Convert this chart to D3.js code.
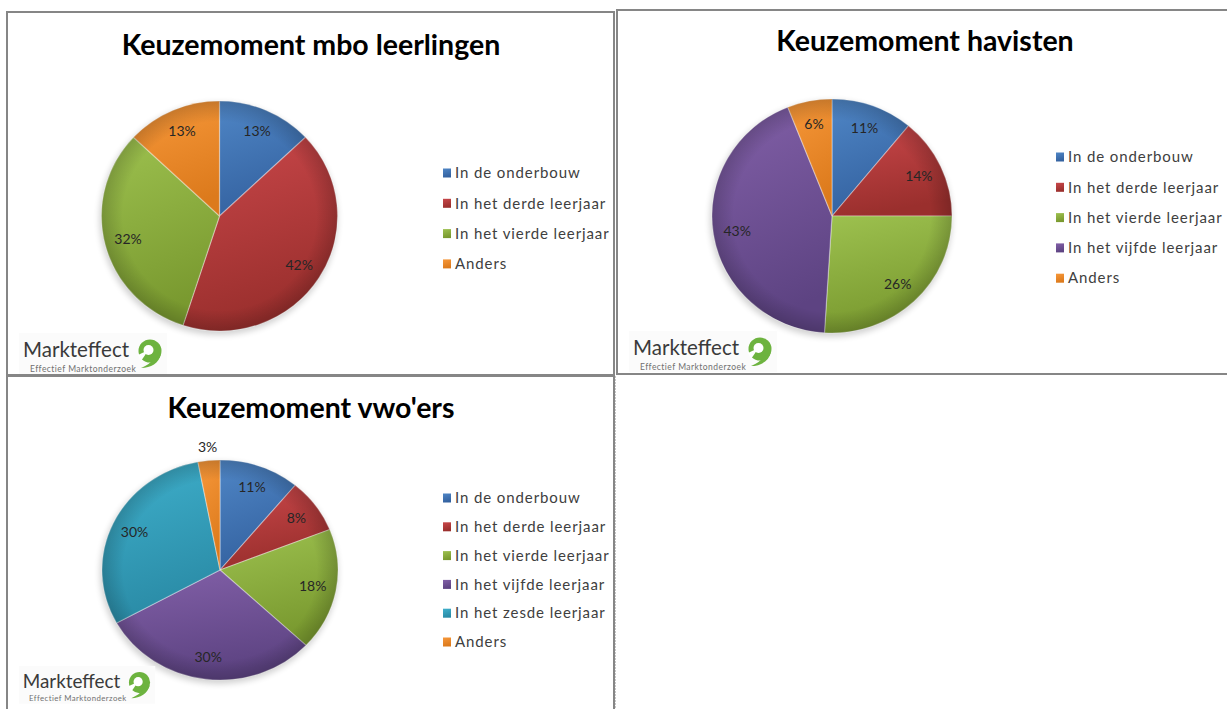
<!DOCTYPE html>
<html>
<head>
<meta charset="utf-8">
<script src="https://cdn.jsdelivr.net/npm/d3@7"></script>
<style>
  html, body { margin: 0; padding: 0; background: #fff; }
  svg { display: block; }
</style>
</head>
<body>
<svg id="chart" width="1227" height="709"></svg>
<script>
// Categories and shares (percent) for each school type
const mboCategories = ["In de onderbouw", "In het derde leerjaar", "In het vierde leerjaar", "Anders"];
const mboValues = [13, 42, 32, 13];

const havoCategories = ["In de onderbouw", "In het derde leerjaar", "In het vierde leerjaar", "In het vijfde leerjaar", "Anders"];
const havoValues = [11, 14, 26, 43, 6];

const vwoCategories = ["In de onderbouw", "In het derde leerjaar", "In het vierde leerjaar", "In het vijfde leerjaar", "In het zesde leerjaar", "Anders"];
const vwoValues = [11, 8, 18, 30, 30, 3];

const titles = ["Keuzemoment mbo leerlingen", "Keuzemoment havisten", "Keuzemoment vwo'ers"];

// Office-style palette, light and dark stop per category
const palette = {
  "In de onderbouw":        ["#4f86c6", "#3462a0"],
  "In het derde leerjaar":  ["#c9474a", "#9a2f2d"],
  "In het vierde leerjaar": ["#9dc14f", "#79992f"],
  "In het vijfde leerjaar": ["#8260a8", "#5d4382"],
  "In het zesde leerjaar":  ["#3fb0cc", "#2a8ba6"],
  "Anders":                 ["#f7983a", "#dc7a1c"]
};

const FONT = "Lato, 'Open Sans', sans-serif";

const svg = d3.select("#chart");
const defs = svg.append("defs");

Object.entries(palette).forEach(([name, [light, dark]], i) => {
  const g = defs.append("linearGradient")
    .attr("id", "grad" + i)
    .attr("x1", 0).attr("y1", 0).attr("x2", 0.25).attr("y2", 1);
  g.append("stop").attr("offset", "0%").attr("stop-color", light);
  g.append("stop").attr("offset", "100%").attr("stop-color", dark);
});
const gradId = name => "url(#grad" + Object.keys(palette).indexOf(name) + ")";

// darker rim for the bevelled look
const rim = defs.append("radialGradient").attr("id", "rim");
rim.append("stop").attr("offset", "82%").attr("stop-color", "#000").attr("stop-opacity", 0);
rim.append("stop").attr("offset", "100%").attr("stop-color", "#000").attr("stop-opacity", 0.18);

const shadow = defs.append("filter").attr("id", "shadow")
  .attr("x", "-20%").attr("y", "-20%").attr("width", "140%").attr("height", "140%");
shadow.append("feGaussianBlur").attr("stdDeviation", 3);

// Panel frames
const frames = [
  { x: 7, y: 12, w: 607, h: 363 },
  { x: 617, y: 10, w: 620, h: 364 },
  { x: 7, y: 376, w: 607, h: 345 }
];
frames.forEach(f => {
  svg.append("rect")
    .attr("x", f.x).attr("y", f.y).attr("width", f.w).attr("height", f.h)
    .attr("fill", "none")
    .attr("stroke", "#868686")
    .attr("stroke-width", 2);
});
// light dotted divider to the right of the third panel
svg.append("line")
  .attr("x1", 615.5).attr("x2", 615.5).attr("y1", 376).attr("y2", 709)
  .attr("stroke", "#c8c8c8").attr("stroke-width", 1).attr("stroke-dasharray", "2,1");

const charts = [
  { cats: mboCategories, vals: mboValues, title: titles[0], tx: 311, ty: 55,
    cx: 219.5, cy: 216, rx: 118, ry: 115, lx: 443, ly: 173, lstep: 30.3 },
  { cats: havoCategories, vals: havoValues, title: titles[1], tx: 925, ty: 51,
    cx: 832, cy: 216, rx: 120, ry: 117, lx: 1056, ly: 157, lstep: 30.3 },
  { cats: vwoCategories, vals: vwoValues, title: titles[2], tx: 311, ty: 418,
    cx: 220, cy: 570, rx: 118, ry: 110, lx: 443, ly: 498, lstep: 28.8 }
];

charts.forEach(c => {
  const data = c.cats.map((name, i) => ({ name, value: c.vals[i] }));
  const pie = d3.pie().sort(null).value(d => d.value);
  const arcs = pie(data);
  const k = c.ry / c.rx;
  const arc = d3.arc().innerRadius(0).outerRadius(c.rx);

  // title
  svg.append("text")
    .attr("x", c.tx).attr("y", c.ty)
    .attr("text-anchor", "middle")
    .attr("font-family", FONT)
    .attr("font-weight", 700)
    .attr("font-size", 28.5)
    .attr("fill", "#000")
    .text(c.title);

  // soft shadow under the pie
  svg.append("ellipse")
    .attr("cx", c.cx - 1).attr("cy", c.cy + 3)
    .attr("rx", c.rx + 1).attr("ry", c.ry + 1)
    .attr("fill", "#000").attr("opacity", 0.18)
    .attr("filter", "url(#shadow)");

  const g = svg.append("g")
    .attr("transform", `translate(${c.cx},${c.cy}) scale(1,${k})`);

  g.selectAll("path.slice")
    .data(arcs)
    .join("path")
    .attr("class", "slice")
    .attr("d", arc)
    .attr("fill", d => gradId(d.data.name))
    .attr("stroke", "rgba(255,255,255,0.35)")
    .attr("stroke-width", 1.2)
    .attr("stroke-linejoin", "round");

  g.append("circle").attr("r", c.rx).attr("fill", "url(#rim)");

  // percentage labels; very thin slices get their label outside the pie
  const inner = d3.arc().innerRadius(c.rx * 0.8).outerRadius(c.rx * 0.8);
  const outer = d3.arc().innerRadius(c.rx + 14).outerRadius(c.rx + 14);
  svg.append("g")
    .selectAll("text")
    .data(arcs)
    .join("text")
    .attr("transform", d => {
      const p = (d.data.value < 5 ? outer : inner).centroid(d);
      return `translate(${c.cx + p[0]},${c.cy + p[1] * k})`;
    })
    .attr("text-anchor", "middle")
    .attr("dy", "0.35em")
    .attr("font-family", FONT)
    .attr("font-size", 14)
    .attr("fill", "#262626")
    .text(d => d.data.value + "%");

  // legend
  const leg = svg.append("g").selectAll("g")
    .data(data)
    .join("g")
    .attr("transform", (d, i) => `translate(${c.lx},${c.ly + i * c.lstep})`);
  leg.append("rect")
    .attr("x", 0).attr("y", -4.5).attr("width", 8).attr("height", 9)
    .attr("fill", d => gradId(d.name));
  leg.append("text")
    .attr("x", 12).attr("y", 0).attr("dy", "0.35em")
    .attr("font-family", FONT)
    .attr("font-size", 15)
    .attr("letter-spacing", 0.9)
    .attr("fill", "#404040")
    .text(d => d.name);
});

// Company logo in the lower left corner of each panel
const logos = [
  { x: 19, y: 333, s: 1 },
  { x: 629, y: 331, s: 1 },
  { x: 19, y: 666, s: 0.92 }
];
logos.forEach(l => {
  const g = svg.append("g").attr("transform", `translate(${l.x},${l.y}) scale(${l.s})`);
  g.append("rect").attr("width", 148).attr("height", 41).attr("fill", "#fbfbfb");
  g.append("text")
    .attr("x", 4).attr("y", 24)
    .attr("font-family", FONT)
    .attr("font-size", 20.5)
    .attr("fill", "#3a3a3a")
    .text("Markteffect");
  g.append("text")
    .attr("x", 11).attr("y", 38.5)
    .attr("font-family", FONT)
    .attr("font-size", 8.5)
    .attr("letter-spacing", 0.45)
    .attr("fill", "#707070")
    .text("Effectief Marktonderzoek");
  // green speech mark
  const m = g.append("g").attr("transform", "translate(131,18)");
  m.append("circle").attr("r", 11.5).attr("fill", "#6db33f");
  m.append("circle").attr("cx", -1.5).attr("cy", -1).attr("r", 5).attr("fill", "#fff");
  m.append("path")
    .attr("d", "M-1.5,-1 L-12,4 L-9,10 Z")
    .attr("fill", "#fff");
  m.append("path")
    .attr("d", "M11,3 C9,12 1,17 -9,17 C-3,14 1,12 3,8 Z")
    .attr("fill", "#6db33f");
});
</script>
</body>
</html>
